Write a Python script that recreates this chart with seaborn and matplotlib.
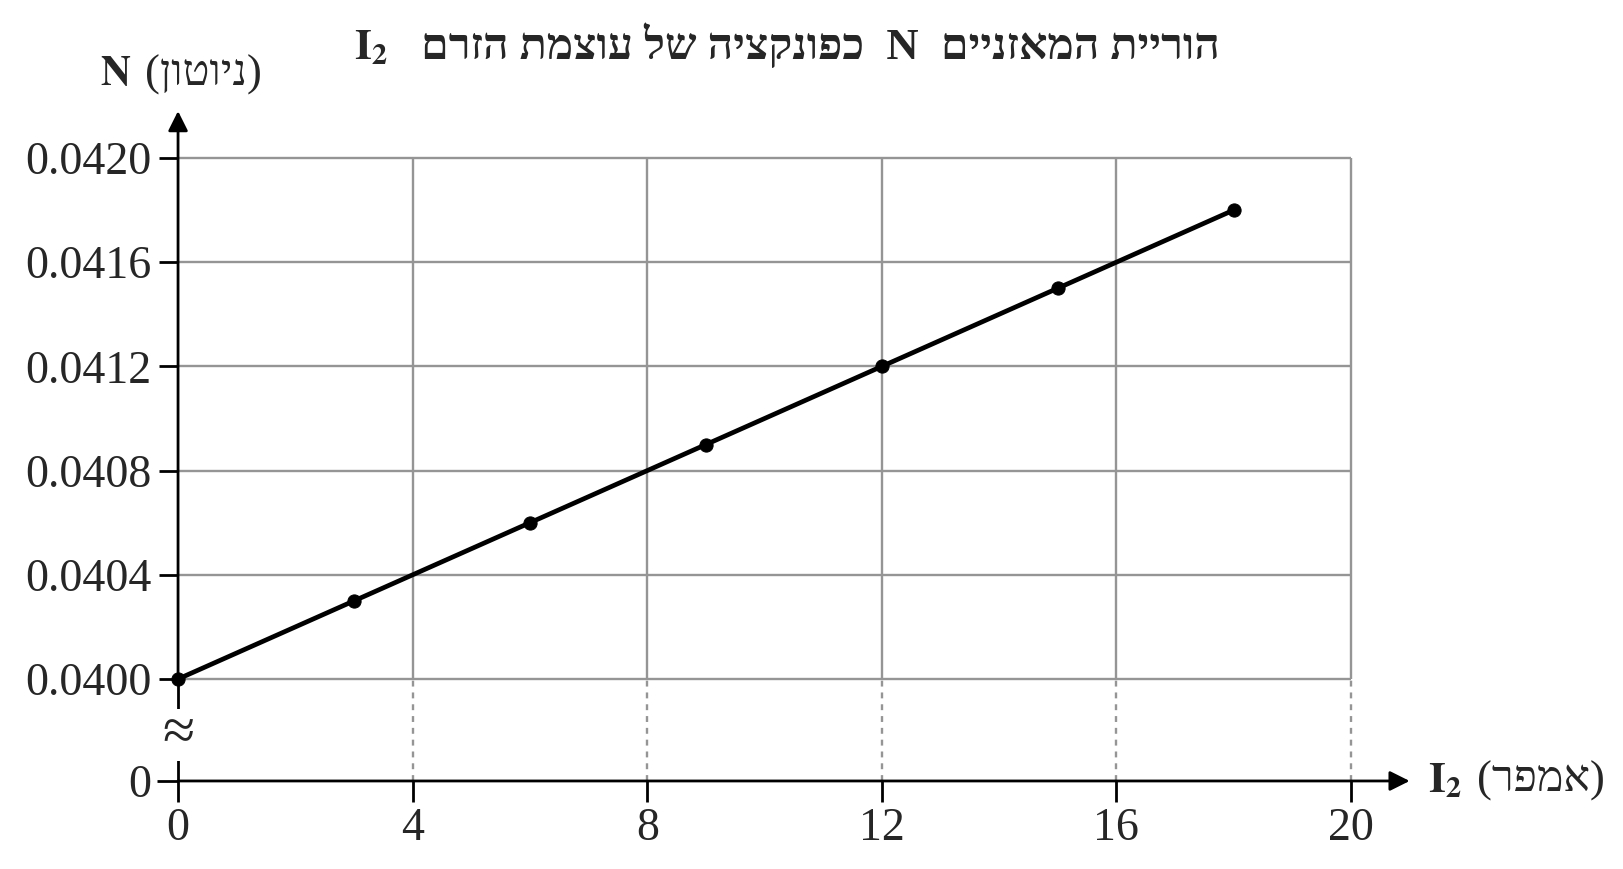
import matplotlib
matplotlib.use('Agg')
import matplotlib.pyplot as plt
import seaborn as sns

# measured points: balance reading N vs current I2
current = [0, 3, 6, 9, 12, 15, 18]
force = [0.0400, 0.0403, 0.0406, 0.0409, 0.0412, 0.0415, 0.0418]
x_ticks = [0, 4, 8, 12, 16, 20]
y_ticks = [0.0400, 0.0404, 0.0408, 0.0412, 0.0416, 0.0420]

title_he = 'הוריית המאזניים  N  כפונקציה של עוצמת הזרם'
ylabel_he = 'ניוטון'
xlabel_he = 'אמפר'


def visual(s):
    # matplotlib has no bidi support, so put hebrew in visual order by hand
    return ' '.join(w[::-1] for w in reversed(s.split(' ')))


sns.set_style('white')
plt.rcParams['font.family'] = ['Liberation Serif', 'DejaVu Sans']
plt.rcParams['mathtext.fontset'] = 'stix'

fig = plt.figure(figsize=(16.23, 8.69), dpi=100)
ax = fig.add_axes([0.1097, 0.2186, 0.7227, 0.5996])
ax0 = fig.add_axes([0.1097, 0.1013, 0.7227, 0.1173])
for a in (ax, ax0):
    a.set_facecolor('none')
    a.set_xlim(0, 20)
    for s in a.spines.values():
        s.set_visible(False)
ax.set_ylim(0.0400, 0.0420)
ax0.set_ylim(0, 1)

# grid: solid in the upper part, dotted under the break
grid_kw = dict(color='#959595', lw=1.7, zorder=1, clip_on=False)
ax.hlines(y_ticks, 0, 20, **grid_kw)
ax.vlines(x_ticks[1:], 0.0400, 0.0420, **grid_kw)
ax0.vlines(x_ticks[1:], 0, 1, linestyles=(0, (2.5, 2.5)), **grid_kw)

sns.lineplot(x=current, y=force, ax=ax, color='black', lw=3.4, marker='o',
             markersize=9.5, mec='black', clip_on=False, zorder=5)
ax.set_xlabel('')
ax.set_ylabel('')

ax.set_xticks([])
ax.set_yticks(y_ticks)
ax.set_yticklabels([f'{v:.4f}' for v in y_ticks])
ax.tick_params(axis='y', direction='out', length=14, width=2, color='black',
               labelsize=33, pad=5, left=True)

ax0.set_yticks([0])
ax0.set_yticklabels(['0'])
ax0.set_xticks(x_ticks)
ax0.set_xticklabels([str(v) for v in x_ticks])
ax0.tick_params(axis='both', direction='out', length=15, width=2, color='black',
                labelsize=33, pad=4, left=True, bottom=True)

# axis lines with arrows
arrow_kw = dict(arrowstyle='-|>', color='black', lw=2, mutation_scale=30,
                shrinkA=0, shrinkB=0)
ax0.annotate('', xy=(21.0, 0), xytext=(0, 0), arrowprops=arrow_kw,
             annotation_clip=False)
ax.annotate('', xy=(0, 0.04218), xytext=(0, 0.0400), arrowprops=arrow_kw,
            annotation_clip=False)
ax0.vlines(0, 0, 1, color='black', lw=2, clip_on=False, zorder=4)
ax0.text(0, 0.45, '≈', ha='center', va='center', fontsize=42, zorder=6,
         bbox=dict(fc='white', ec='none', pad=0.2))

# title
fig.text(0.2594, 0.932, visual(title_he), ha='left', va='baseline',
         fontsize=32, fontweight='bold')
fig.text(0.239, 0.932, r'$\mathbf{I_2}$', ha='right', va='baseline', fontsize=31)

# y label
fig.text(0.0616, 0.902, r'$\mathbf{N}$', ha='left', va='baseline', fontsize=30)
fig.text(0.0893, 0.902, '(' + ylabel_he[::-1] + ')', ha='left', va='baseline',
         fontsize=32)

# x label
fig.text(0.880, 0.0886, r'$\mathbf{I_2}$', ha='left', va='baseline', fontsize=31)
fig.text(0.910, 0.0886, '(' + xlabel_he[::-1] + ')', ha='left', va='baseline',
         fontsize=32)

fig.savefig('out.png', dpi=100)
